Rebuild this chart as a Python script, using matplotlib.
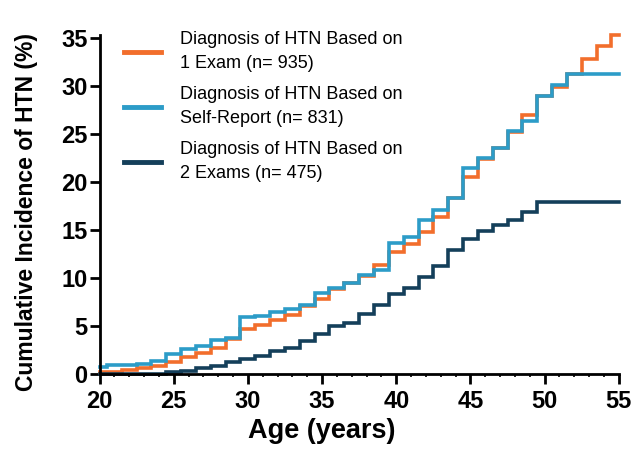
import numpy as np
import matplotlib
matplotlib.use('Agg')
import matplotlib.pyplot as plt
from matplotlib.ticker import MultipleLocator

plt.rcParams['font.family'] = ['Liberation Sans', 'DejaVu Sans']

# step edges: start age of each interval (steps happen at k + 0.5)
step_ages = [20.0] + [k + 0.5 for k in range(20, 55)]

one_exam = [0.25, 0.25, 0.4, 0.6, 0.8, 1.3, 1.8, 2.15, 2.7, 3.7,
            4.7, 5.1, 5.6, 6.2, 7.1, 7.85, 8.85, 9.5, 10.2, 11.35,
            12.7, 13.55, 14.8, 16.4, 18.4, 20.55, 22.4, 23.6, 25.2, 27.05,
            29.0, 29.9, 31.3, 32.8, 34.2, 35.3]
self_report = [0.7, 1.0, 1.0, 1.1, 1.35, 2.1, 2.6, 2.9, 3.6, 3.8,
               5.9, 6.05, 6.5, 6.8, 7.2, 8.45, 8.95, 9.45, 10.35, 10.8,
               13.7, 14.3, 16.05, 17.1, 18.4, 21.5, 22.55, 23.6, 25.3, 26.4,
               29.0, 30.1, 31.3, 31.3, 31.3, 31.3]
two_exams = [0.05, 0.05, 0.05, 0.05, 0.05, 0.17, 0.3, 0.6, 0.8, 1.28,
             1.55, 1.87, 2.4, 2.73, 3.43, 4.2, 5.0, 5.36, 6.3, 7.23,
             8.37, 9.0, 10.1, 11.3, 12.9, 14.1, 14.95, 15.5, 16.1, 16.9,
             17.9, 17.9, 17.9, 17.9, 17.9, 17.9]

labels = ['Diagnosis of HTN Based on\n1 Exam (n= 935)',
          'Diagnosis of HTN Based on\nSelf-Report (n= 831)',
          'Diagnosis of HTN Based on\n2 Exams (n= 475)']
colors = ['#F26E2C', '#2C9CC8', '#143F5A']

fig = plt.figure(figsize=(6.34, 4.54), dpi=100)
ax = fig.add_axes([0.157, 0.176, 0.819, 0.746])

x = np.array(step_ages + [55.0])
for series, lab, col in zip([one_exam, self_report, two_exams], labels, colors):
    y = np.array(series + [series[-1]])
    ax.step(x, y, where='post', color=col, lw=2.6, label=lab,
            solid_joinstyle='miter', clip_on=False)

ax.set_xlim(20, 55)
ax.set_ylim(0, 35.3)
ax.set_xticks(range(20, 56, 5))
ax.set_yticks(range(0, 36, 5))
ax.xaxis.set_minor_locator(MultipleLocator(1))

for side in ['top', 'right']:
    ax.spines[side].set_visible(False)
for side in ['left', 'bottom']:
    ax.spines[side].set_linewidth(2.0)

ax.tick_params(which='major', length=7, width=2.0, labelsize=17)
ax.tick_params(axis='x', which='major', pad=4.5)
ax.tick_params(axis='y', which='major', pad=1.5)
ax.tick_params(which='minor', length=2, width=1.2)
for t in ax.get_xticklabels() + ax.get_yticklabels():
    t.set_fontweight('bold')

ax.set_xlabel('Age (years)', fontsize=19.5, fontweight='bold')
ax.set_ylabel('Cumulative Incidence of HTN (%)', fontsize=16.5, fontweight='bold')
ax.xaxis.set_label_coords(0.4286, -0.13)
ax.yaxis.set_label_coords(-0.118, 0.478)

leg = ax.legend(loc='upper left', bbox_to_anchor=(0.015, 1.06), frameon=False,
                fontsize=13, handlelength=2.05, handletextpad=1.05,
                labelspacing=0.8)
for t in leg.get_texts():
    t.set_linespacing(1.5)
for h in leg.get_lines():
    h.set_linewidth(3.5)

fig.savefig('out.png', dpi=100)
